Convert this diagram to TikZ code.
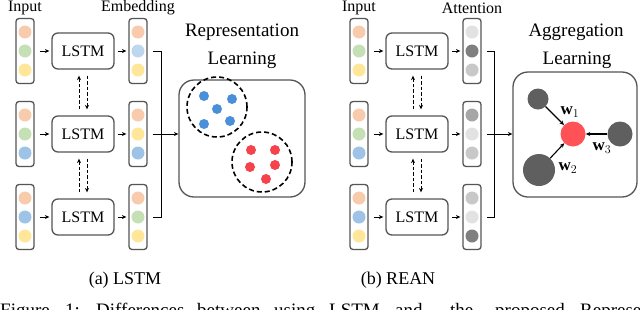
\documentclass[tikz,border=0pt]{standalone}
\usepackage{fontspec}
\setmainfont{Liberation Serif}
\usetikzlibrary{arrows.meta,calc}
\definecolor{barc}{HTML}{555555}
\definecolor{cOr}{HTML}{F8CBAD}
\definecolor{cGr}{HTML}{C5E0B4}
\definecolor{cYe}{HTML}{FFE699}
\definecolor{cBl}{HTML}{9DC3E6}
\definecolor{cLb}{HTML}{BDD7EE}
\definecolor{gA}{HTML}{E2E2E2}
\definecolor{gB}{HTML}{C8C8C8}
\definecolor{gC}{HTML}{A6A6A6}
\definecolor{gD}{HTML}{7F7F7F}
\definecolor{bdot}{HTML}{4A90D9}
\definecolor{rdot}{HTML}{F5434B}
\definecolor{gnode}{HTML}{5F5F5F}
\definecolor{rnode}{HTML}{FF5257}
\begin{document}
\begin{tikzpicture}[x=1pt,y=-1pt,
  bar/.style={draw=barc,line width=1.3pt,rounded corners=3pt,minimum width=18pt,minimum height=65pt,inner sep=0pt},
  dot/.style={circle,inner sep=0pt,minimum size=13pt},
  sdot/.style={circle,inner sep=0pt,minimum size=10pt},
  lstm/.style={draw=barc,line width=1.3pt,rounded corners=6pt,minimum width=62pt,minimum height=36pt,inner sep=0pt,font=\fontsize{16}{18}\selectfont},
  arr/.style={-{Stealth[length=4.5pt,width=4pt]},line width=1pt},
  dasharr/.style={arr,dash pattern=on 3.5pt off 2pt,shorten <=6pt,shorten >=6pt},
  lab/.style={font=\fontsize{16}{18}\selectfont,inner sep=0pt},
  ttl/.style={font=\fontsize{19}{21}\selectfont,inner sep=0pt},
  capt/.style={font=\fontsize{18}{20}\selectfont,inner sep=0pt},
  figcap/.style={font=\fontsize{19}{21}\selectfont,inner sep=0pt,anchor=base west},
  bigbox/.style={draw=barc,line width=1.3pt,rounded corners=15pt,inner sep=0pt},
  dcirc/.style={circle,draw=black,line width=1.6pt,dash pattern=on 5pt off 3pt,minimum size=60pt,inner sep=0pt},
  wlab/.style={font=\fontsize{17}{19}\selectfont,inner sep=0pt}
]
\useasboundingbox (0,0) rectangle (640,309);
\fill[white] (0,0) rectangle (640,309);

% ---------------- Left panel (a) LSTM ----------------
\node[lab] (ainp) at (25,8) {Input};
\node[lab] (aemb) at (138,8) {Embedding};
\foreach \r/\y/\a/\b/\c/\d/\e/\f in {1/51/cOr/cGr/cYe/cOr/cLb/cYe, 2/134/cOr/cGr/cBl/cOr/cYe/cBl, 3/217/cOr/cBl/cYe/cOr/cGr/cYe} {
  \node[bar] (ai\r) at (25,\y) {};
  \node[dot,fill=\a] (ai\r a) at (25,\y-19) {};
  \node[dot,fill=\b] (ai\r b) at (25,\y) {};
  \node[dot,fill=\c] (ai\r c) at (25,\y+19) {};
  \node[lstm] (al\r) at (83,\y) {LSTM};
  \node[bar] (ae\r) at (138,\y) {};
  \node[dot,fill=\d] (ae\r a) at (138,\y-19) {};
  \node[dot,fill=\e] (ae\r b) at (138,\y) {};
  \node[dot,fill=\f] (ae\r c) at (138,\y+19) {};
  \draw[arr,shorten >=2pt] ([xshift=5pt]ai\r.east) -- (al\r.west);
  \draw[arr,shorten >=2pt] ([xshift=3pt]al\r.east) -- (ae\r.west);
}
\draw[dasharr] ([xshift=-4pt]al2.north) -- ([xshift=-4pt]al1.south);
\draw[dasharr] ([xshift=4pt]al1.south) -- ([xshift=4pt]al2.north);
\draw[dasharr] ([xshift=-4pt]al3.north) -- ([xshift=-4pt]al2.south);
\draw[dasharr] ([xshift=4pt]al2.south) -- ([xshift=4pt]al3.north);

\node[ttl] (at1) at (242,32) {Representation};
\node[ttl] (at2) at (242,60) {Learning};
\node[bigbox,minimum width=126pt,minimum height=117pt] (rep) at (242,138.5) {};
\draw[line width=1pt] ([xshift=5pt]ae1.east) -- ++(9,0) |- ([xshift=5pt]ae3.east);
\draw[arr] ([xshift=5pt]ae2.east) -- (ae2.east -| rep.west);

\node[dcirc] (bc) at (217,107) {};
\node[dcirc] (rc) at (262,162) {};
\foreach \n/\px/\py in {1/204/96, 2/232/99, 3/217/109, 4/204/124, 5/230/121}
  \node[sdot,fill=bdot] (bd\n) at (\px,\py) {};
\foreach \n/\px/\py in {1/251/150, 2/275/150, 3/250/167, 4/275/165, 5/266/179}
  \node[sdot,fill=rdot] (rd\n) at (\px,\py) {};

\node[capt] (capa) at (125,280) {(a) LSTM};

% ---------------- Right panel (b) REAN ----------------
\node[lab] (binp) at (359,8) {Input};
\node[lab] (batt) at (472,8) {Attention};
\foreach \r/\y/\a/\b/\c/\d/\e/\f in {1/51/cOr/cGr/cYe/gA/gD/gB, 2/134/cOr/cGr/cBl/gC/gA/gB, 3/217/cOr/cBl/cYe/gB/gA/gD} {
  \node[bar] (bi\r) at (359,\y) {};
  \node[dot,fill=\a] (bi\r a) at (359,\y-19) {};
  \node[dot,fill=\b] (bi\r b) at (359,\y) {};
  \node[dot,fill=\c] (bi\r c) at (359,\y+19) {};
  \node[lstm] (bl\r) at (417,\y) {LSTM};
  \node[bar] (be\r) at (472,\y) {};
  \node[dot,fill=\d] (be\r a) at (472,\y-19) {};
  \node[dot,fill=\e] (be\r b) at (472,\y) {};
  \node[dot,fill=\f] (be\r c) at (472,\y+19) {};
  \draw[arr,shorten >=2pt] ([xshift=5pt]bi\r.east) -- (bl\r.west);
  \draw[arr,shorten >=2pt] ([xshift=3pt]bl\r.east) -- (be\r.west);
}
\draw[dasharr] ([xshift=-4pt]bl2.north) -- ([xshift=-4pt]bl1.south);
\draw[dasharr] ([xshift=4pt]bl1.south) -- ([xshift=4pt]bl2.north);
\draw[dasharr] ([xshift=-4pt]bl3.north) -- ([xshift=-4pt]bl2.south);
\draw[dasharr] ([xshift=4pt]bl2.south) -- ([xshift=4pt]bl3.north);

\node[ttl] (bt1) at (576,32) {Aggregation};
\node[ttl] (bt2) at (577,60) {Learning};
\node[bigbox,minimum width=124pt,minimum height=125pt] (agg) at (575,134.5) {};
\draw[line width=1pt] ([xshift=5pt]be1.east) -- ++(8,0) |- ([xshift=5pt]be3.east);
\draw[arr] ([xshift=5pt]be2.east) -- (be2.east -| agg.west);

\node[circle,fill=gnode,minimum size=21pt,inner sep=0pt] (g1) at (538,99) {};
\node[circle,fill=gnode,minimum size=32pt,inner sep=0pt] (g2) at (539,170) {};
\node[circle,fill=gnode,minimum size=25pt,inner sep=0pt] (g3) at (620,134) {};
\node[circle,fill=rnode,minimum size=25pt,inner sep=0pt] (gc) at (573,134) {};
\draw[arr,line width=1.1pt] (g1) -- (gc);
\draw[arr,line width=1.1pt] (g2) -- (gc);
\draw[arr,line width=1.1pt] (g3) -- (gc);
\node[wlab] (w1) at (570,112) {$\mathbf{w}_1$};
\node[wlab] (w2) at (568,168) {$\mathbf{w}_2$};
\node[wlab] (w3) at (602,148) {$\mathbf{w}_3$};

\node[capt] (capb) at (398,280) {(b) REAN};

% ---------------- clipped figure caption ----------------
\node[figcap] (f1) at (0,316) {Figure};
\node[figcap] (f2) at (65,316) {1:};
\node[figcap] (f3) at (96,316) {Differences};
\node[figcap] (f4) at (197,316) {between};
\node[figcap] (f5) at (274,316) {using};
\node[figcap] (f6) at (329,316) {LSTM};
\node[figcap] (f7) at (395,316) {and};
\node[figcap] (f8) at (450,316) {the};
\node[figcap] (f9) at (495,316) {proposed};
\node[figcap] (f10) at (580,316) {Represent};
\end{tikzpicture}
\end{document}
